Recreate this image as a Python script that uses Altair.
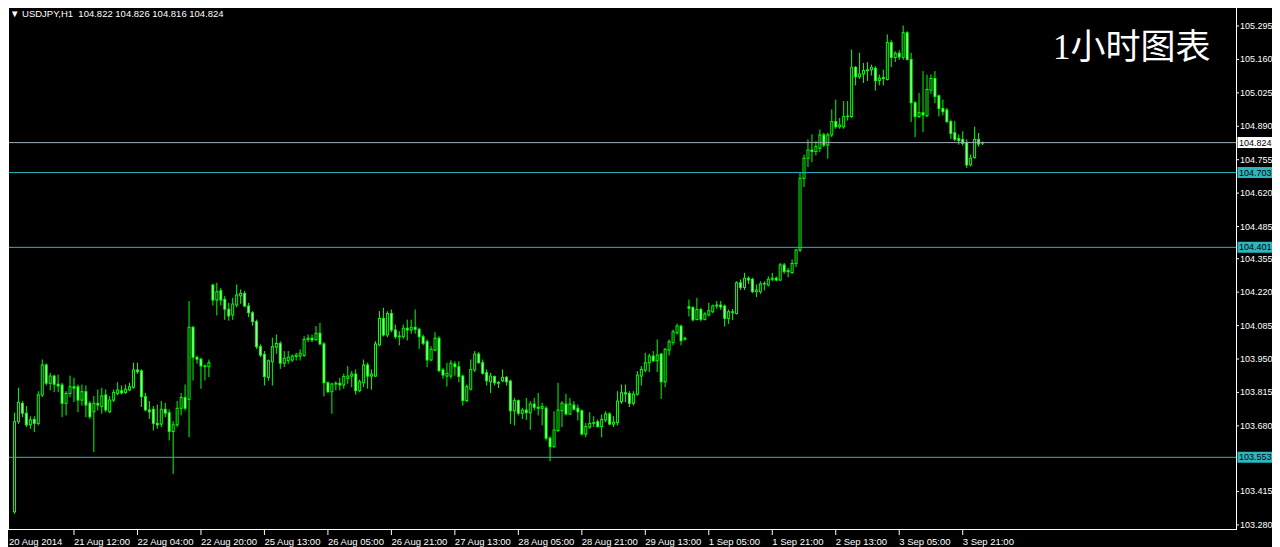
import altair as alt
import pandas as pd

# ---------------- data ----------------
opens = [
    103.333, 103.697, 103.771, 103.731, 103.684, 103.706, 103.690, 103.805, 103.926, 103.852,
    103.881, 103.848, 103.845, 103.771, 103.811, 103.838, 103.838, 103.784, 103.818, 103.771,
    103.737, 103.771, 103.758, 103.805, 103.737, 103.784, 103.811, 103.822, 103.815, 103.825,
    103.836, 103.906, 103.902, 103.798, 103.744, 103.747, 103.690, 103.687, 103.747, 103.733,
    103.657, 103.684, 103.751, 103.795, 103.787, 104.078, 103.957, 103.949, 103.922, 103.919,
    104.249, 104.188, 104.226, 104.191, 104.151, 104.128, 104.168, 104.205, 104.215, 104.164,
    104.137, 104.101, 104.000, 103.969, 103.876, 103.939, 103.998, 104.013, 103.933, 103.943,
    103.946, 103.960, 103.962, 103.965, 104.029, 104.034, 104.029, 104.054, 104.011, 103.854,
    103.818, 103.849, 103.852, 103.845, 103.872, 103.881, 103.889, 103.822, 103.854, 103.926,
    103.881, 103.881, 104.007, 104.114, 104.047, 104.134, 104.067, 104.040, 104.040, 104.074,
    104.067, 104.078, 104.070, 104.040, 104.020, 103.946, 103.986, 104.034, 103.906, 103.881,
    103.881, 103.930, 103.919, 103.881, 103.782, 103.828, 103.906, 103.970, 103.935, 103.895,
    103.858, 103.879, 103.856, 103.862, 103.876, 103.861, 103.741, 103.782, 103.731, 103.744,
    103.733, 103.768, 103.755, 103.751, 103.751, 103.630, 103.596, 103.661, 103.741, 103.768,
    103.728, 103.764, 103.751, 103.741, 103.647, 103.675, 103.690, 103.697, 103.677, 103.704,
    103.728, 103.687, 103.693, 103.778, 103.814, 103.811, 103.771, 103.808, 103.881, 103.905,
    103.935, 103.962, 103.943, 103.970, 103.858, 103.986, 104.016, 104.056, 104.083, 104.034,
    104.161, 104.158, 104.110, 104.150, 104.110, 104.128, 104.141, 104.164, 104.168, 104.164,
    104.114, 104.141, 104.134, 104.258, 104.239, 104.276, 104.272, 104.222, 104.222, 104.253,
    104.249, 104.272, 104.276, 104.269, 104.330, 104.303, 104.299, 104.336, 104.390, 104.680,
    104.761, 104.794, 104.788, 104.801, 104.855, 104.814, 104.855, 104.909, 104.888, 104.888,
    104.929, 104.929, 105.128, 105.090, 105.101, 105.114, 105.118, 105.124, 105.075, 105.083,
    105.079, 105.228, 105.168, 105.185, 105.168, 105.268, 105.160, 104.985, 104.929, 104.945,
    104.932, 105.036, 105.083, 105.013, 104.962, 104.956, 104.909, 104.864, 104.841, 104.837,
    104.824, 104.734, 104.764, 104.837, 104.822,
]
highs = [
    103.731, 103.832, 103.778, 103.758, 103.717, 103.717, 103.818, 103.946, 103.930, 103.892,
    103.885, 103.885, 103.852, 103.818, 103.881, 103.872, 103.845, 103.845, 103.841, 103.778,
    103.798, 103.825, 103.832, 103.825, 103.798, 103.825, 103.854, 103.841, 103.845, 103.852,
    103.933, 103.933, 103.906, 103.811, 103.778, 103.758, 103.764, 103.778, 103.771, 103.744,
    103.697, 103.778, 103.811, 103.845, 104.182, 104.081, 103.962, 103.953, 103.926, 103.946,
    104.252, 104.256, 104.235, 104.202, 104.175, 104.195, 104.249, 104.229, 104.222, 104.175,
    104.141, 104.107, 104.007, 103.980, 103.946, 104.034, 104.047, 104.020, 103.980, 103.980,
    103.966, 103.973, 103.987, 104.040, 104.047, 104.047, 104.081, 104.094, 104.016, 103.858,
    103.852, 103.858, 103.872, 103.889, 103.919, 103.899, 103.906, 103.865, 103.946, 103.933,
    103.906, 104.020, 104.141, 104.155, 104.141, 104.148, 104.087, 104.060, 104.087, 104.107,
    104.107, 104.148, 104.074, 104.047, 104.027, 104.000, 104.056, 104.040, 103.912, 103.933,
    103.943, 103.939, 103.939, 103.885, 103.845, 103.946, 103.980, 103.976, 103.946, 103.906,
    103.892, 103.881, 103.858, 103.906, 103.879, 103.865, 103.791, 103.784, 103.751, 103.791,
    103.778, 103.791, 103.811, 103.771, 103.758, 103.636, 103.737, 103.852, 103.778, 103.808,
    103.791, 103.778, 103.764, 103.744, 103.690, 103.733, 103.717, 103.704, 103.724, 103.737,
    103.733, 103.717, 103.818, 103.845, 103.845, 103.818, 103.818, 103.899, 103.919, 103.973,
    103.970, 103.980, 104.027, 103.973, 103.993, 104.027, 104.067, 104.091, 104.087, 104.038,
    104.188, 104.161, 104.195, 104.155, 104.137, 104.175, 104.168, 104.182, 104.182, 104.168,
    104.148, 104.150, 104.262, 104.269, 104.296, 104.282, 104.276, 104.249, 104.262, 104.262,
    104.282, 104.296, 104.282, 104.336, 104.336, 104.316, 104.350, 104.393, 104.700, 104.774,
    104.835, 104.855, 104.828, 104.875, 104.862, 104.862, 104.956, 104.996, 104.922, 104.990,
    104.990, 105.198, 105.131, 105.185, 105.144, 105.147, 105.137, 105.131, 105.097, 105.117,
    105.259, 105.236, 105.191, 105.195, 105.295, 105.272, 105.185, 104.990, 105.023, 105.111,
    105.097, 105.097, 105.111, 105.016, 104.996, 104.962, 104.915, 104.909, 104.855, 104.868,
    104.835, 104.774, 104.886, 104.861, 104.826,
]
lows = [
    103.327, 103.690, 103.717, 103.677, 103.670, 103.657, 103.684, 103.798, 103.845, 103.825,
    103.818, 103.818, 103.717, 103.724, 103.798, 103.778, 103.737, 103.764, 103.717, 103.710,
    103.576, 103.744, 103.731, 103.737, 103.733, 103.778, 103.805, 103.808, 103.811, 103.822,
    103.832, 103.892, 103.758, 103.741, 103.710, 103.663, 103.670, 103.677, 103.717, 103.623,
    103.488, 103.677, 103.724, 103.744, 103.636, 103.865, 103.933, 103.832, 103.865, 103.879,
    104.168, 104.128, 104.168, 104.110, 104.107, 104.110, 104.161, 104.175, 104.161, 104.121,
    104.087, 103.993, 103.960, 103.845, 103.865, 103.845, 103.973, 103.912, 103.919, 103.933,
    103.939, 103.946, 103.946, 103.960, 104.020, 104.020, 104.025, 104.007, 103.801, 103.815,
    103.731, 103.825, 103.825, 103.832, 103.852, 103.838, 103.808, 103.818, 103.838, 103.832,
    103.828, 103.879, 104.003, 104.043, 104.040, 104.060, 104.034, 104.007, 104.034, 104.027,
    104.054, 104.054, 103.993, 104.007, 103.919, 103.943, 103.984, 103.899, 103.872, 103.841,
    103.872, 103.885, 103.858, 103.764, 103.778, 103.825, 103.899, 103.933, 103.889, 103.845,
    103.815, 103.845, 103.835, 103.858, 103.845, 103.690, 103.684, 103.724, 103.710, 103.706,
    103.666, 103.744, 103.724, 103.684, 103.623, 103.539, 103.593, 103.657, 103.677, 103.724,
    103.726, 103.744, 103.704, 103.643, 103.636, 103.670, 103.677, 103.675, 103.636, 103.697,
    103.684, 103.677, 103.684, 103.771, 103.778, 103.758, 103.764, 103.804, 103.845, 103.899,
    103.899, 103.939, 103.899, 103.791, 103.838, 103.966, 104.007, 104.051, 104.007, 104.027,
    104.124, 104.104, 104.108, 104.104, 104.108, 104.124, 104.137, 104.155, 104.150, 104.083,
    104.094, 104.110, 104.132, 104.231, 104.231, 104.255, 104.218, 104.202, 104.215, 104.229,
    104.245, 104.266, 104.266, 104.266, 104.296, 104.282, 104.296, 104.323, 104.384, 104.646,
    104.727, 104.747, 104.774, 104.788, 104.808, 104.761, 104.848, 104.882, 104.882, 104.882,
    104.915, 104.926, 105.057, 105.083, 105.067, 105.075, 105.097, 105.036, 105.057, 105.057,
    105.077, 105.131, 105.151, 105.160, 105.160, 105.157, 104.909, 104.848, 104.926, 104.868,
    104.929, 105.023, 104.985, 104.932, 104.936, 104.905, 104.841, 104.832, 104.818, 104.814,
    104.724, 104.730, 104.761, 104.810, 104.816,
]
closes = [
    103.697, 103.775, 103.731, 103.684, 103.704, 103.690, 103.805, 103.926, 103.852, 103.881,
    103.848, 103.841, 103.771, 103.811, 103.838, 103.832, 103.784, 103.818, 103.764, 103.717,
    103.771, 103.764, 103.801, 103.744, 103.784, 103.815, 103.825, 103.813, 103.828, 103.838,
    103.906, 103.899, 103.798, 103.744, 103.737, 103.690, 103.684, 103.747, 103.731, 103.657,
    103.684, 103.751, 103.795, 103.751, 104.078, 103.957, 103.949, 103.922, 103.919, 103.935,
    104.188, 104.222, 104.188, 104.151, 104.124, 104.172, 104.209, 104.215, 104.164, 104.137,
    104.101, 104.000, 103.966, 103.879, 103.943, 104.000, 104.013, 103.933, 103.953, 103.957,
    103.962, 103.966, 103.973, 104.029, 104.034, 104.027, 104.054, 104.011, 103.854, 103.818,
    103.849, 103.852, 103.845, 103.879, 103.881, 103.889, 103.822, 103.858, 103.926, 103.881,
    103.889, 104.011, 104.114, 104.047, 104.134, 104.067, 104.040, 104.043, 104.074, 104.067,
    104.078, 104.070, 104.040, 104.013, 103.946, 103.989, 104.034, 103.903, 103.885, 103.892,
    103.933, 103.919, 103.879, 103.782, 103.838, 103.908, 103.970, 103.935, 103.892, 103.862,
    103.881, 103.854, 103.852, 103.876, 103.858, 103.741, 103.782, 103.731, 103.744, 103.733,
    103.768, 103.755, 103.751, 103.758, 103.630, 103.596, 103.663, 103.744, 103.771, 103.728,
    103.768, 103.747, 103.737, 103.647, 103.677, 103.690, 103.693, 103.677, 103.706, 103.728,
    103.687, 103.695, 103.780, 103.814, 103.809, 103.771, 103.808, 103.885, 103.908, 103.935,
    103.962, 103.943, 103.966, 103.858, 103.989, 104.020, 104.060, 104.083, 104.024, 104.030,
    104.155, 104.108, 104.150, 104.110, 104.132, 104.145, 104.164, 104.168, 104.160, 104.114,
    104.141, 104.137, 104.258, 104.239, 104.276, 104.269, 104.222, 104.229, 104.253, 104.255,
    104.272, 104.276, 104.269, 104.330, 104.303, 104.307, 104.336, 104.390, 104.680, 104.761,
    104.794, 104.788, 104.808, 104.855, 104.814, 104.855, 104.909, 104.888, 104.895, 104.929,
    104.931, 105.128, 105.090, 105.101, 105.115, 105.118, 105.128, 105.074, 105.084, 105.087,
    105.228, 105.168, 105.185, 105.170, 105.268, 105.160, 104.985, 104.929, 104.945, 104.936,
    105.039, 105.083, 105.010, 104.962, 104.949, 104.909, 104.861, 104.837, 104.832, 104.821,
    104.734, 104.761, 104.837, 104.818, 104.824,
]

time_ticks = [0, 15, 31, 47, 63, 79, 95, 111, 127, 143, 159, 175, 191, 207, 223, 239]
time_labels = ["20 Aug 2014", "21 Aug 12:00", "22 Aug 04:00", "22 Aug 20:00",
               "25 Aug 13:00", "26 Aug 05:00", "26 Aug 21:00", "27 Aug 13:00",
               "28 Aug 05:00", "28 Aug 21:00", "29 Aug 13:00", "1 Sep 05:00",
               "1 Sep 21:00", "2 Sep 13:00", "3 Sep 05:00", "3 Sep 21:00"]

price_ticks = [105.295, 105.160, 105.025, 104.890, 104.755, 104.620, 104.485, 104.355,
               104.220, 104.085, 103.950, 103.815, 103.680, 103.415, 103.280]

level_values = [104.824, 104.703, 104.401, 103.553]
level_kinds = ["bid", "level", "level", "level"]

header_text = "\u25bc USDJPY,H1\u00a0\u00a0104.822 104.826 104.816 104.824"
title_text = "1\u5c0f\u65f6\u56fe\u8868"

# ---------------- styling ----------------
W, H = 1228, 521
LIME = "#00ff00"
CYAN = "#2ab7be"
BID = "#a3adb4"
FONT = "Liberation Sans"
FS = 9.5
FSY = 9

xs = alt.Scale(domain=[-0.375, 306.625], nice=False, zero=False)
ys = alt.Scale(domain=[103.2634, 105.3677], nice=False, zero=False)

df = pd.DataFrame({"i": list(range(len(opens))), "o": opens, "h": highs,
                   "l": lows, "c": closes})

X = alt.X("i:Q", scale=xs, axis=None)

wick = alt.Chart(df).mark_rule(color=LIME, strokeWidth=1, yOffset=-0.5, y2Offset=0.5).encode(
    x=X, y=alt.Y("h:Q", scale=ys, axis=None), y2="l:Q")

body_base = alt.Chart(df).transform_calculate(
    top="max(datum.o, datum.c)", bot="min(datum.o, datum.c)",
    col="datum.c >= datum.o ? '#000000' : '#b8ffb8'")

body = body_base.mark_bar(width=3, color=LIME, yOffset=-0.5, y2Offset=0.5).encode(
    x=X, y=alt.Y("top:Q", scale=ys, axis=None), y2="bot:Q")

inner = body_base.transform_filter("(datum.top - datum.bot) > 0.0045").mark_bar(
    width=1, yOffset=0.5, y2Offset=-0.5).encode(
    x=X, y=alt.Y("top:Q", scale=ys, axis=None), y2="bot:Q",
    color=alt.Color("col:N", scale=None, legend=None))

lv = pd.DataFrame({"v": level_values, "kind": level_kinds})
lv_base = alt.Chart(lv).transform_calculate(
    lc=f"datum.kind == 'bid' ? '{BID}' : '{CYAN}'",
    bc=f"datum.kind == 'bid' ? '#ffffff' : '{CYAN}'")
hlines = lv_base.mark_rule(strokeWidth=1).encode(
    x=alt.value(0), x2=alt.value(W), y=alt.Y("v:Q", scale=ys, axis=None),
    color=alt.Color("lc:N", scale=None, legend=None))
boxes = lv_base.mark_rect(yOffset=-5.5, y2Offset=5.5).encode(
    x=alt.value(W + 1.5), x2=alt.value(W + 36), y=alt.Y("v:Q", scale=ys, axis=None), y2="v:Q",
    color=alt.Color("bc:N", scale=None, legend=None))
box_text = lv_base.mark_text(align="left", baseline="middle", color="black",
                             font=FONT, fontSize=FSY).encode(
    x=alt.value(W + 3), y=alt.Y("v:Q", scale=ys, axis=None),
    text=alt.Text("v:Q", format=".3f"))

# right price axis
yt = pd.DataFrame({"v": price_ticks})
y_domain = alt.Chart(yt).mark_rule(color="white").encode(
    x=alt.value(W + 0.5), y=alt.value(0), y2=alt.value(H + 1))
y_ticks = alt.Chart(yt).mark_rule(color="white").encode(
    x=alt.value(W + 1), x2=alt.value(W + 3), y=alt.Y("v:Q", scale=ys, axis=None))
y_labels = alt.Chart(yt).mark_text(align="left", baseline="middle", color="white",
                                   font=FONT, fontSize=FSY).encode(
    x=alt.value(W + 4), y=alt.Y("v:Q", scale=ys, axis=None),
    text=alt.Text("v:Q", format=".3f"))

# bottom time axis
xt = pd.DataFrame({"b": time_ticks, "lab": time_labels})
x_domain = alt.Chart(xt).mark_rule(color="white").encode(
    x=alt.value(0), x2=alt.value(W + 1), y=alt.value(H + 0.5))
x_ticks = alt.Chart(xt).transform_filter("datum.b > 0").mark_rule(color="white").encode(
    x=alt.X("b:Q", scale=xs, axis=None), y=alt.value(H + 1), y2=alt.value(H + 6))
x_labels = alt.Chart(xt).transform_filter("datum.b > 0").mark_text(
    align="left", baseline="alphabetic", dx=0, color="white", font=FONT, fontSize=FS).encode(
    x=alt.X("b:Q", scale=xs, axis=None), y=alt.value(H + 16), text="lab:N")
x_first = alt.Chart(xt).transform_filter("datum.b == 0").mark_text(
    align="left", baseline="alphabetic", color="white", font=FONT, fontSize=FS).encode(
    x=alt.value(1), y=alt.value(H + 16), text="lab:N")

left_border = alt.Chart(yt).mark_rule(color="white").encode(
    x=alt.value(0.5), y=alt.value(0), y2=alt.value(H + 1))

header = alt.Chart(pd.DataFrame({"t": [header_text]})).mark_text(
    align="left", baseline="top", color="white", font=FONT, fontSize=FS).encode(
    x=alt.value(2), y=alt.value(1), text="t:N")

title = alt.Chart(pd.DataFrame({"t": [title_text]})).mark_text(
    align="left", baseline="middle", color="white",
    font="Liberation Serif, Noto Sans CJK SC", fontSize=35).encode(
    x=alt.value(1045), y=alt.value(40), text="t:N")

chart = alt.layer(
    wick, body, inner, hlines, boxes, box_text,
    y_domain, y_ticks, y_labels, x_domain, x_ticks, x_labels, x_first,
    left_border, header, title,
).properties(
    width=W, height=H,
    autosize=alt.AutoSizeParams(type="none"),
    padding={"left": 0, "top": 0, "right": 36, "bottom": 18},
).configure(background="black").configure_view(strokeWidth=0)

chart.save("out.html", embed_options={"renderer": "svg", "actions": False})
